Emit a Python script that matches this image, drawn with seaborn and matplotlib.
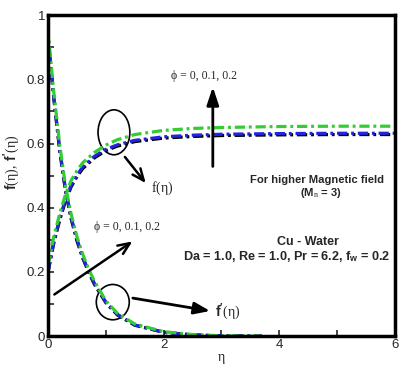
import matplotlib
matplotlib.use("Agg")
import matplotlib.pyplot as plt
from matplotlib.patches import Ellipse
from matplotlib.ticker import MultipleLocator
import seaborn as sns
import pandas as pd

# velocity profiles
eta_f = [0, 0.1, 0.2, 0.3, 0.4, 0.5, 0.6, 0.8, 1.0, 1.2, 1.5, 2.0, 2.5, 3.0, 4.0, 5.0, 6.0]
f_phi0 = [0.2, 0.29, 0.36, 0.42, 0.465, 0.497, 0.522, 0.555, 0.578, 0.592, 0.606, 0.617, 0.622, 0.625, 0.627, 0.628, 0.628]
f_phi1 = [0.2, 0.295, 0.365, 0.425, 0.47, 0.502, 0.527, 0.56, 0.582, 0.596, 0.61, 0.621, 0.626, 0.629, 0.631, 0.632, 0.632]
f_phi2 = [0.22, 0.31, 0.38, 0.44, 0.485, 0.515, 0.54, 0.572, 0.595, 0.612, 0.628, 0.641, 0.647, 0.65, 0.653, 0.654, 0.654]

eta_fp = [0, 0.1, 0.2, 0.3, 0.4, 0.5, 0.6, 0.7, 0.8, 1.0, 1.2, 1.5, 2.0, 2.5, 3.0, 3.7]
fp_phi0 = [0.93, 0.74, 0.58, 0.455, 0.365, 0.297, 0.243, 0.2, 0.162, 0.104, 0.066, 0.034, 0.012, 0.004, 0.001, 0.0]
fp_phi1 = [0.93, 0.745, 0.585, 0.46, 0.37, 0.302, 0.247, 0.203, 0.165, 0.106, 0.068, 0.035, 0.012, 0.004, 0.001, 0.0]
fp_phi2 = [0.95, 0.76, 0.60, 0.47, 0.38, 0.31, 0.255, 0.21, 0.172, 0.11, 0.071, 0.038, 0.014, 0.005, 0.001, 0.0]

phis = ["0", "0.1", "0.2"]
colors = {"0": "black", "0.1": "#2424dc", "0.2": "#33cc33"}

sns.set_theme(style="ticks")
plt.rcParams["font.family"] = ["Liberation Sans", "DejaVu Sans"]
plt.rcParams["mathtext.fontset"] = "custom"
plt.rcParams["mathtext.rm"] = "Liberation Serif"
plt.rcParams["mathtext.it"] = "Liberation Serif:italic"
plt.rcParams["mathtext.bf"] = "Liberation Sans:bold"

fig = plt.figure(figsize=(4.14, 3.69), dpi=100)
ax = fig.add_axes([0.116, 0.089, 0.838, 0.870])

dash_f = (0, (3.2, 1.2, 0.9, 1.2))
dash_fp = (1.5, (3.2, 1.2, 0.9, 1.2))
for phi, f, fp in zip(phis, [f_phi0, f_phi1, f_phi2], [fp_phi0, fp_phi1, fp_phi2]):
    d1 = pd.DataFrame({"eta": eta_f, "val": f})
    d2 = pd.DataFrame({"eta": eta_fp, "val": fp})
    sns.lineplot(data=d1, x="eta", y="val", ax=ax, color=colors[phi], lw=2.3,
                 linestyle=dash_f, sort=False, estimator=None)
    sns.lineplot(data=d2, x="eta", y="val", ax=ax, color=colors[phi], lw=2.3,
                 linestyle=dash_fp, sort=False, estimator=None)

ax.set_xlim(0, 6)
ax.set_ylim(0, 1)
ax.xaxis.set_major_locator(MultipleLocator(2))
ax.xaxis.set_minor_locator(MultipleLocator(1))
ax.yaxis.set_major_locator(MultipleLocator(0.2))
ax.yaxis.set_minor_locator(MultipleLocator(0.1))
ax.set_yticks([0, 0.2, 0.4, 0.6, 0.8, 1.0], ["0", "0.2", "0.4", "0.6", "0.8", "1"])
ax.tick_params(which="both", direction="in", width=1.2, length=4, labelsize=9.5,
               top=False, right=False, pad=2)
for s in ax.spines.values():
    s.set_linewidth(2.5)
    s.set_color("black")

ax.set_xlabel(r"$\mathrm{\eta}$", fontsize=10, labelpad=1)
ax.set_ylabel(r"$\mathbf{f}\mathrm{(\eta)},\ \mathbf{f'}\mathrm{(\eta)}$", fontsize=10)
ax.yaxis.set_label_coords(-0.075, 0.54)

serif = {"family": ["Liberation Serif", "DejaVu Serif"], "fontsize": 8.5}
ax.text(2.7, 0.81, "ϕ = 0, 0.1, 0.2", ha="center", va="center", **serif)
ax.text(1.37, 0.34, "ϕ = 0, 0.1, 0.2", ha="center", va="center", **serif)

ax.annotate("", xy=(2.85, 0.785), xytext=(2.85, 0.52),
            arrowprops=dict(arrowstyle="-|>,head_length=0.9,head_width=0.3", lw=2, color="black"))
ax.add_patch(Ellipse((1.14, 0.635), 0.55, 0.14, fill=False, lw=1.2, color="black"))
ax.annotate("", xy=(1.72, 0.47), xytext=(1.3, 0.565),
            arrowprops=dict(arrowstyle="->,head_length=0.7,head_width=0.3", lw=1.8, color="black"))
ax.text(1.78, 0.46, r"$\mathrm{f(\eta)}$", fontsize=10, va="center")

ax.add_patch(Ellipse((1.12, 0.106), 0.57, 0.11, fill=False, lw=1.2, color="black"))
ax.annotate("", xy=(1.5, 0.30), xytext=(0.07, 0.125),
            arrowprops=dict(arrowstyle="->,head_length=0.7,head_width=0.3", lw=1.8, color="black"))
ax.annotate("", xy=(2.85, 0.077), xytext=(1.42, 0.12),
            arrowprops=dict(arrowstyle="-|>,head_length=0.8,head_width=0.3", lw=2, color="black"))
ax.text(2.88, 0.077, r"$\mathbf{f'}\mathrm{(\eta)}$", fontsize=10, va="center")

ax.text(4.66, 0.486, "For higher Magnetic field", ha="center", va="center",
        fontsize=8.1, fontweight="bold")
ax.text(4.72, 0.445, r"(M$_\mathrm{n}$ = 3)", ha="center", va="center",
        fontsize=8.1, fontweight="bold")
ax.text(4.5, 0.293, "Cu - Water", ha="center", va="center", fontsize=9, fontweight="bold")
ax.text(4.12, 0.249, r"Da = 1.0, Re = 1.0, Pr = 6.2, f$_\mathbf{w}$ = 0.2", ha="center",
        va="center", fontsize=9.1, fontweight="bold")

fig.savefig("out.png", dpi=100)
